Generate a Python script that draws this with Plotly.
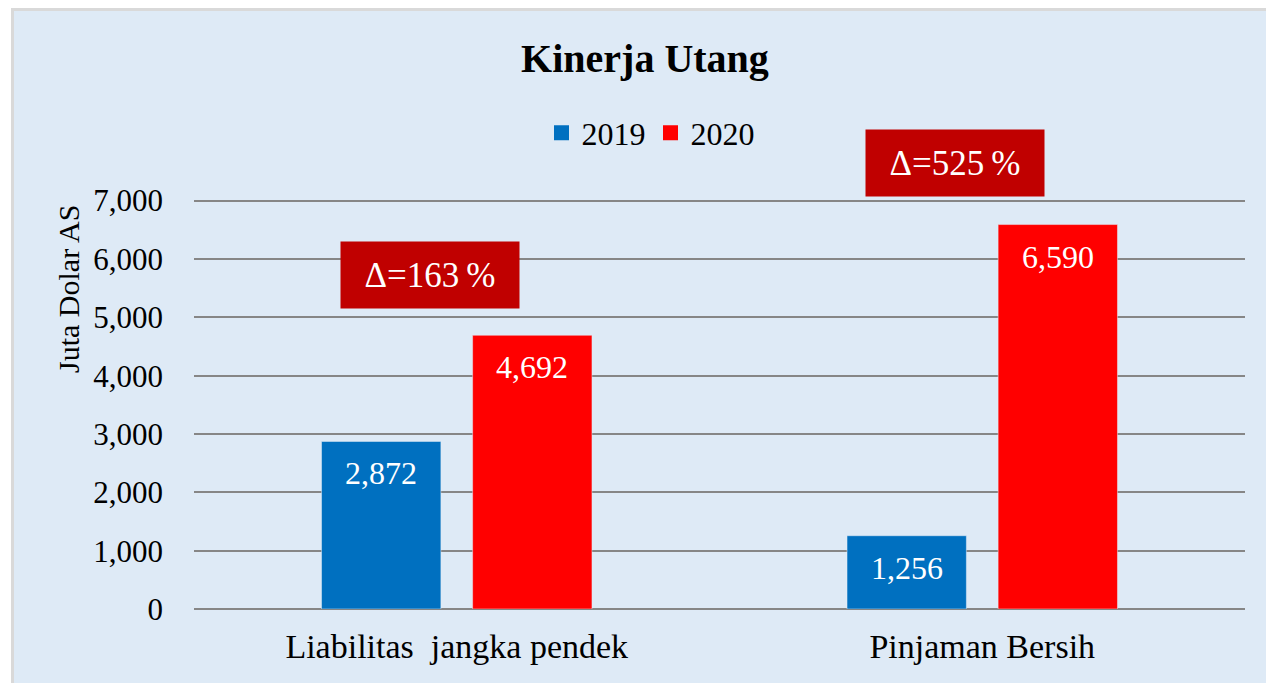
import plotly.graph_objects as go

categories = ["Liabilitas  jangka pendek", "Pinjaman Bersih"]
years = ["2019", "2020"]
values_2019 = [2872, 1256]
values_2020 = [4692, 6590]
deltas = ["Δ=163\u2009%", "Δ=525\u2009%"]
delta_y = [5720, 7640]
y_max = 7000

FONT = "Liberation Serif"
BLUE = "#0070C0"
RED = "#FF0000"
DARKRED = "#C00000"

fig = go.Figure()
fig.add_trace(go.Bar(name=years[0], x=categories, y=values_2019, marker_color=BLUE, showlegend=False))
fig.add_trace(go.Bar(name=years[1], x=categories, y=values_2020, marker_color=RED, showlegend=False))
# legend entries with bigger square symbols
for name, col in zip(years, (BLUE, RED)):
    fig.add_trace(go.Scatter(x=[None], y=[None], mode="markers", name=name,
                             marker=dict(symbol="square", size=15, color=col)))

W, H = 1266, 683
L, T = 194, 199
R = W - 1245
B = H - 609
PW = W - L - R
PH = H - T - B
y_top = y_max * 1.004

annotations = []
# data labels inside bars, near top
for vals, shift in ((values_2019, -75.5), (values_2020, 75.5)):
    for c, v in zip(categories, vals):
        annotations.append(dict(x=c, y=v, xref="x", yref="y", text=f"{v:,}",
                                showarrow=False, xshift=shift, yshift=-32,
                                yanchor="middle",
                                font=dict(family=FONT, size=32, color="white")))
# delta boxes
for c, d, yy in zip(categories, deltas, delta_y):
    annotations.append(dict(x=c, y=yy / y_top, xref="x", yref="paper", text=d, showarrow=False,
                            xshift=-27, yanchor="middle", width=178, height=66,
                            bgcolor=DARKRED, borderpad=0,
                            font=dict(family=FONT, size=35, color="white")))
# y-axis title
annotations.append(dict(x=(68 - L) / PW, y=(609 - 289) / PH, xref="paper", yref="paper",
                        text="Juta Dolar AS", textangle=-90, showarrow=False,
                        xanchor="center", yanchor="middle",
                        font=dict(family=FONT, size=30, color="black")))

fig.update_layout(
    width=W, height=H,
    margin=dict(l=L, r=R, t=T, b=B),
    paper_bgcolor="white",
    plot_bgcolor="rgba(0,0,0,0)",
    barmode="group", bargap=0.425, bargroupgap=0.21,
    title=dict(text="<b>Kinerja Utang</b>", x=645 / W, xanchor="center",
               y=1 - 58 / H, yanchor="middle",
               font=dict(family=FONT, size=40, color="black")),
    legend=dict(orientation="h", x=(541.5 - L) / PW, xanchor="left",
                y=(609 - 133) / PH, yanchor="middle",
                font=dict(family=FONT, size=32, color="black"),
                bgcolor="rgba(0,0,0,0)"),
    font=dict(family=FONT, color="black"),
    annotations=annotations,
    shapes=[dict(type="rect", xref="paper", yref="paper",
                 x0=(12.5 - L) / PW, x1=(W + 20 - L) / PW,
                 y0=(609 - H - 20) / PH, y1=(609 - 9.5) / PH,
                 fillcolor="#DEEAF6", line=dict(color="#D9D9D9", width=3),
                 layer="below")],
)
fig.update_yaxes(range=[0, y_top], tickvals=list(range(0, y_max + 1, 1000)),
                 tickformat=",", showgrid=True,
                 gridcolor="#868686", gridwidth=2, zeroline=True,
                 zerolinecolor="#868686", zerolinewidth=2, showline=False,
                 ticks="", ticklabelstandoff=30,
                 tickfont=dict(family=FONT, size=31, color="black"))
fig.update_xaxes(showline=False, ticks="", showgrid=False, ticklabelstandoff=14,
                 tickfont=dict(family=FONT, size=34, color="black"))

fig.write_html("out.html", config={"displayModeBar": False},
               post_script="document.body.style.margin='0';document.body.style.overflow='hidden';")
